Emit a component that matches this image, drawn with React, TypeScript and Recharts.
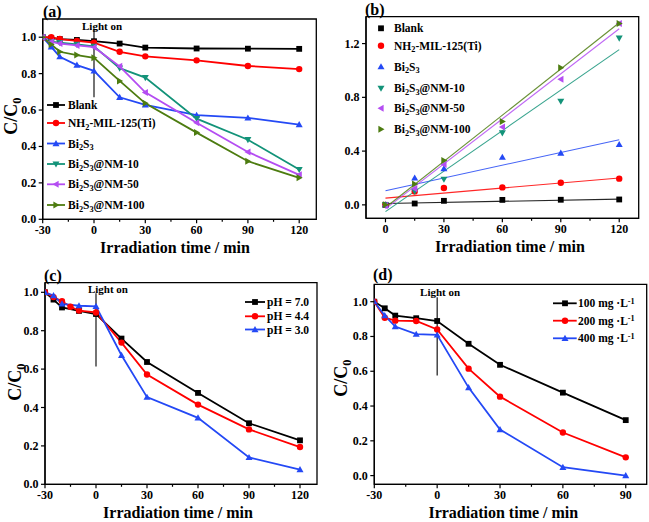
import React from 'react';
import {
  LineChart, Line, XAxis, YAxis, ReferenceLine, ReferenceArea, ReferenceDot,
  ComposedChart, Scatter, Legend,
} from 'recharts';

const FONT = '"Liberation Serif", "Times New Roman", Times, serif';
const BLACK = '#000000';
const RED = '#ff0000';
const BLUE = '#2449f5';
const TEAL = '#139379';
const PURPLE = '#b44df2';
const OLIVE = '#4d7c10';

// ---------- Panel (a) ----------
const timeA = [-30, -25, -20, -10, 0, 15, 30, 60, 90, 120];
const blankA = [1.0, 0.995, 0.99, 0.985, 0.978, 0.965, 0.943, 0.938, 0.937, 0.936];
const nh2A = [1.0, 1.0, 0.99, 0.98, 0.97, 0.92, 0.895, 0.873, 0.842, 0.825];
const bi2s3A = [1.0, 0.947, 0.893, 0.847, 0.815, 0.67, 0.628, 0.572, 0.557, 0.52];
const nm10A = [1.0, 0.975, 0.97, 0.96, 0.95, 0.83, 0.778, 0.553, 0.437, 0.273];
const nm50A = [1.0, 0.975, 0.965, 0.955, 0.945, 0.84, 0.697, 0.53, 0.37, 0.244];
const nm100A = [1.0, 0.96, 0.92, 0.902, 0.887, 0.76, 0.637, 0.476, 0.319, 0.228];
const namesA = ['Blank', 'NH2-MIL-125(Ti)', 'Bi2S3', 'Bi2S3@NM-10', 'Bi2S3@NM-50', 'Bi2S3@NM-100'];

// ---------- Panel (b) ----------
const timeB = [0, 15, 30, 60, 90, 120];
const blankB = [0, 0.01, 0.03, 0.037, 0.038, 0.04];
const nh2B = [0, 0.1, 0.125, 0.13, 0.165, 0.195];
const bi2s3B = [0, 0.2, 0.27, 0.355, 0.385, 0.45];
const nm10B = [0, 0.1, 0.19, 0.535, 0.77, 1.24];
const nm50B = [-0.005, 0.12, 0.3, 0.58, 0.935, 1.35];
const nm100B = [0, 0.155, 0.33, 0.62, 1.02, 1.35];
const fitTimeB = [0, 120];
const blankFitB = [0.01, 0.043];
const nh2FitB = [0.05, 0.2];
const bi2s3FitB = [0.105, 0.485];
const nm10FitB = [-0.05, 1.155];
const nm50FitB = [-0.03, 1.31];
const nm100FitB = [-0.02, 1.355];

// ---------- Panel (c) ----------
const timeC = [-30, -25, -20, -15, -10, 0, 15, 30, 60, 90, 120];
const ph70C = [1.0, 0.962, 0.921, null, 0.903, 0.887, 0.759, 0.637, 0.476, 0.318, 0.229];
const ph44C = [1.0, 0.975, 0.953, 0.925, 0.905, 0.895, 0.738, 0.572, 0.415, 0.286, 0.194];
const ph30C = [1.0, 0.983, 0.94, null, 0.93, 0.927, 0.672, 0.454, 0.346, 0.14, 0.077];
const namesC = ['pH = 7.0', 'pH = 4.4', 'pH = 3.0'];

// ---------- Panel (d) ----------
const timeD = [-30, -25, -20, -10, 0, 15, 30, 60, 90];
const mg100D = [1.0, 0.962, 0.92, 0.905, 0.889, 0.758, 0.637, 0.477, 0.319];
const mg200D = [1.0, 0.908, 0.891, 0.889, 0.84, 0.615, 0.454, 0.248, 0.105];
const mg400D = [1.0, 0.92, 0.857, 0.813, 0.809, 0.506, 0.265, 0.048, 0.0];
const doseD = ['100', '200', '400'];

// ---------- helpers ----------
const rows = (t: number[], series: Record<string, (number | null)[]>) =>
  t.map((tv, i) => {
    const r: any = { t: tv };
    Object.keys(series).forEach((k) => { r[k] = series[k][i]; });
    return r;
  });
const pts = (t: number[], v: number[]) => t.map((tv, i) => ({ x: tv, y: v[i] }));

const Sub = ({ children }: any) => (
  <span style={{ fontSize: '0.72em', position: 'relative', top: '0.32em' }}>{children}</span>
);
const Sup = ({ children }: any) => (
  <span style={{ fontSize: '0.72em', position: 'relative', top: '-0.45em' }}>{children}</span>
);
const chem = (s: string) => {
  const parts = s.split(/(?<=[A-Za-z])(\d)/);
  return parts.map((p, i) => (i % 2 === 1 ? <Sub key={i}>{p}</Sub> : <React.Fragment key={i}>{p}</React.Fragment>));
};

function MarkerShape({ cx, cy, shape, color, size = 7 }: any) {
  if (cx == null || cy == null || Number.isNaN(cx) || Number.isNaN(cy)) return <g />;
  const s = size / 2;
  switch (shape) {
    case 'square':
      return <rect x={cx - 2.9} y={cy - 2.9} width={5.8} height={5.8} fill={color} />;
    case 'circle':
      return <circle cx={cx} cy={cy} r={3.2} fill={color} />;
    case 'up':
      return <polygon points={`${cx},${cy - s} ${cx + s},${cy + s * 0.75} ${cx - s},${cy + s * 0.75}`} fill={color} />;
    case 'down':
      return <polygon points={`${cx},${cy + s} ${cx + s},${cy - s * 0.75} ${cx - s},${cy - s * 0.75}`} fill={color} />;
    case 'left':
      return <polygon points={`${cx - s},${cy} ${cx + s * 0.75},${cy - s} ${cx + s * 0.75},${cy + s}`} fill={color} />;
    case 'right':
      return <polygon points={`${cx + s},${cy} ${cx - s * 0.75},${cy - s} ${cx - s * 0.75},${cy + s}`} fill={color} />;
    default:
      return <g />;
  }
}

const makeDot = (shape: string, color: string) => (props: any) => {
  const { cx, cy, index, value } = props;
  if (value == null || cy == null) return <g key={`n-${index}`} />;
  return <MarkerShape key={`d-${index}`} cx={cx} cy={cy} shape={shape} color={color} />;
};

const TICK_FONT = 12;
const XTick = ({ x, y, payload, majors }: any) => {
  const major = majors.includes(payload.value);
  return (
    <g>
      <line x1={x} x2={x} y1={y} y2={y + (major ? 4 : 2.5)} stroke="#000" strokeWidth={1.2} />
      {major && (
        <text x={x} y={y + 15} textAnchor="middle" fontFamily={FONT} fontWeight="bold" fontSize={TICK_FONT} fill="#000">
          {String(payload.value)}
        </text>
      )}
    </g>
  );
};
const YTick = ({ x, y, payload, majors }: any) => {
  const major = majors.some((m: number) => Math.abs(m - payload.value) < 1e-9);
  return (
    <g>
      <line x1={x - (major ? 4 : 2.5)} x2={x} y1={y} y2={y} stroke="#000" strokeWidth={1.2} />
      {major && (
        <text x={x - 6.5} y={y + 4} textAnchor="end" fontFamily={FONT} fontWeight="bold" fontSize={TICK_FONT} fill="#000">
          {Number(payload.value).toFixed(1)}
        </text>
      )}
    </g>
  );
};

const XTitle = ({ px, py }: any) => (
  <text x={px} y={py} textAnchor="middle" fontFamily={FONT} fontWeight="bold" fontSize={16} fill="#000">
    Irradiation time / min
  </text>
);
const YTitle = ({ px, py }: any) => (
  <text x={px} y={py} transform={`rotate(-90, ${px}, ${py})`} textAnchor="middle" fontFamily={FONT} fontWeight="bold" fontSize={18} fill="#000">
    <tspan>C/C</tspan>
    <tspan dy={4} fontSize={12.5}>0</tspan>
  </text>
);

const LightText = (props: any) => (
  <text x={props.cx} y={props.cy + 4} textAnchor="middle" fontFamily={FONT} fontWeight="bold" fontSize={11} fill="#000">
    Light on
  </text>
);

const AXIS = { stroke: '#000', strokeWidth: 1.3 };

function LegendBlock({ items, ys, markerX, textX, lineX1, lineX2 }: any) {
  return (
    <div style={{ position: 'absolute', left: 0, top: 0, width: 0, height: 0 }}>
      <svg width={1} height={1} style={{ position: 'absolute', left: 0, top: 0, overflow: 'visible' }}>
        {items.map((it: any, i: number) => (
          <g key={i}>
            {lineX1 != null && (
              <line x1={lineX1} x2={lineX2} y1={ys[i]} y2={ys[i]} stroke={it.color} strokeWidth={1.8} />
            )}
            <MarkerShape cx={markerX} cy={ys[i]} shape={it.shape} color={it.color} />
          </g>
        ))}
      </svg>
      {items.map((it: any, i: number) => (
        <div
          key={i}
          style={{
            position: 'absolute', left: textX, top: ys[i] - 8, lineHeight: '16px', whiteSpace: 'nowrap',
            fontFamily: FONT, fontWeight: 'bold', fontSize: 11.5, color: '#000',
          }}
        >
          {it.label}
        </div>
      ))}
    </div>
  );
}

const PanelLabel = ({ text, left, cy }: any) => (
  <div style={{ position: 'absolute', left, top: cy - 9, lineHeight: '18px', fontFamily: FONT, fontWeight: 'bold', fontSize: 16, color: '#000' }}>
    {text}
  </div>
);

const LEGEND_PROPS: any = {
  layout: 'vertical', align: 'center', verticalAlign: 'middle',
  wrapperStyle: { left: 0, top: 0, width: 0, height: 0 },
};

// ---------- data tables ----------
const dataA = rows(timeA, { blank: blankA, nh2: nh2A, bi: bi2s3A, nm10: nm10A, nm50: nm50A, nm100: nm100A });
const seriesA = [
  { key: 'blank', color: BLACK, shape: 'square' },
  { key: 'nh2', color: RED, shape: 'circle' },
  { key: 'bi', color: BLUE, shape: 'up' },
  { key: 'nm10', color: TEAL, shape: 'down' },
  { key: 'nm50', color: PURPLE, shape: 'left' },
  { key: 'nm100', color: OLIVE, shape: 'right' },
].map((s, i) => ({ ...s, name: namesA[i] }));

const seriesB = [
  { v: blankB, fit: blankFitB, color: BLACK, shape: 'square' },
  { v: nh2B, fit: nh2FitB, color: RED, shape: 'circle' },
  { v: bi2s3B, fit: bi2s3FitB, color: BLUE, shape: 'up' },
  { v: nm10B, fit: nm10FitB, color: TEAL, shape: 'down' },
  { v: nm50B, fit: nm50FitB, color: PURPLE, shape: 'left' },
  { v: nm100B, fit: nm100FitB, color: OLIVE, shape: 'right' },
].map((s, i) => ({ ...s, name: namesA[i] }));

const dataC = rows(timeC, { p7: ph70C, p44: ph44C, p3: ph30C });
const seriesC = [
  { key: 'p7', color: BLACK, shape: 'square' },
  { key: 'p44', color: RED, shape: 'circle' },
  { key: 'p3', color: BLUE, shape: 'up' },
].map((s, i) => ({ ...s, name: namesC[i] }));

const dataD = rows(timeD, { m100: mg100D, m200: mg200D, m400: mg400D });
const seriesD = [
  { key: 'm100', color: BLACK, shape: 'square' },
  { key: 'm200', color: RED, shape: 'circle' },
  { key: 'm400', color: BLUE, shape: 'up' },
].map((s, i) => ({ ...s, name: doseD[i] }));

const xMajorA = [-30, 0, 30, 60, 90, 120];
const xMinorA = [-15, 15, 45, 75, 105];
const yMajor10 = [0, 0.2, 0.4, 0.6, 0.8, 1.0];
const xMajorB = [0, 30, 60, 90, 120];
const xMinorB = [15, 45, 75, 105];
const yMajorB = [0, 0.4, 0.8, 1.2];
const xMajorD = [-30, 0, 30, 60, 90];
const xMinorD = [-15, 15, 45, 75];

const sortNum = (a: number[]) => [...a].sort((p, q) => p - q);
const LW = 1.8;

export default function App() {
  return (
    <div style={{ position: 'absolute', left: 0, top: 0, width: 649, height: 522, background: '#fff', overflow: 'hidden' }}>
      {/* (a) */}
      <div style={{ position: 'absolute', left: 0, top: 0, width: 330, height: 262 }}>
        <LineChart width={330} height={262} data={dataA} margin={{ top: 19, right: 13.7, bottom: 0, left: 0 }}>
          <XAxis dataKey="t" type="number" domain={[-30, 130]} allowDataOverflow ticks={sortNum([...xMajorA, ...xMinorA])} interval={0}
            height={42.7} tick={<XTick majors={xMajorA} />} tickLine={false} tickSize={0} tickMargin={0} axisLine={AXIS}
            label={<XTitle px={175} py={253.3} />} />
          <YAxis type="number" domain={[0, 1.1]} allowDataOverflow ticks={yMajor10} interval={0} width={42.7}
            tick={<YTick majors={yMajor10} />} tickLine={false} tickSize={0} tickMargin={0} axisLine={AXIS}
            label={<YTitle px={17} py={116} />} />
          <ReferenceArea x1={-30} x2={130} y1={0} y2={1.1} fill="none" stroke="#000" strokeWidth={1.3} ifOverflow="visible" />
          <ReferenceLine segment={[{ x: 0, y: 0.67 }, { x: 0, y: 1.045 }]} stroke="#000" strokeWidth={1.1} />
          <ReferenceDot x={4.7} y={1.064} r={0} shape={LightText} ifOverflow="visible" />
          {seriesA.map((s) => (
            <Line key={s.key} dataKey={s.key} name={s.name} type="linear" stroke={s.color} strokeWidth={LW}
              dot={makeDot(s.shape, s.color)} activeDot={false} isAnimationActive={false} />
          ))}
          <Legend {...LEGEND_PROPS} content={() => (
            <LegendBlock items={seriesA.map((s) => ({ ...s, label: chem(s.name) }))}
              ys={[105, 123, 143.5, 164, 184.3, 205]} markerX={56} lineX1={47} lineX2={65} textX={68} />
          )} />
        </LineChart>
      </div>

      {/* (b) */}
      <div style={{ position: 'absolute', left: 330, top: 0, width: 319, height: 262 }}>
        <ComposedChart width={319} height={262} margin={{ top: 16.7, right: 10.3, bottom: 0, left: 0 }}>
          <XAxis dataKey="x" type="number" domain={[-10, 130]} allowDataOverflow ticks={sortNum([...xMajorB, ...xMinorB])} interval={0}
            height={43.7} tick={<XTick majors={xMajorB} />} tickLine={false} tickSize={0} tickMargin={0} axisLine={AXIS}
            label={<XTitle px={180} py={252} />} />
          <YAxis type="number" domain={[-0.1, 1.4]} allowDataOverflow ticks={yMajorB} interval={0} width={36}
            tick={<YTick majors={yMajorB} />} tickLine={false} tickSize={0} tickMargin={0} axisLine={AXIS} />
          <ReferenceArea x1={-10} x2={130} y1={-0.1} y2={1.4} fill="none" stroke="#000" strokeWidth={1.3} ifOverflow="visible" />
          {seriesB.map((s, i) => (
            <Line key={`fit-${i}`} data={pts(fitTimeB, s.fit)} dataKey="y" type="linear" stroke={s.color}
              strokeWidth={1.1} strokeOpacity={0.85} dot={false} activeDot={false} legendType="none" isAnimationActive={false} />
          ))}
          {seriesB.map((s, i) => (
            <Scatter key={`sc-${i}`} data={pts(timeB, s.v)} dataKey="y" name={s.name} fill={s.color}
              shape={(p: any) => <MarkerShape cx={p.cx} cy={p.cy} shape={s.shape} color={s.color} />} isAnimationActive={false} />
          ))}
          <Legend {...LEGEND_PROPS} content={() => (
            <LegendBlock items={seriesB.map((s) => ({ ...s, label: chem(s.name) }))}
              ys={[28.3, 45.7, 66.7, 88.3, 108.3, 129.3]} markerX={51} textX={64} />
          )} />
        </ComposedChart>
      </div>

      {/* (c) */}
      <div style={{ position: 'absolute', left: 0, top: 262, width: 330, height: 260 }}>
        <LineChart width={330} height={260} data={dataC} margin={{ top: 20.7, right: 13, bottom: 0, left: 0 }}>
          <XAxis dataKey="t" type="number" domain={[-30, 130]} allowDataOverflow ticks={sortNum([...xMajorA, ...xMinorA])} interval={0}
            height={37.7} tick={<XTick majors={xMajorA} />} tickLine={false} tickSize={0} tickMargin={0} axisLine={AXIS}
            label={<XTitle px={178} py={256.3} />} />
          <YAxis type="number" domain={[0, 1.05]} allowDataOverflow ticks={yMajor10} interval={0} width={45}
            tick={<YTick majors={yMajor10} />} tickLine={false} tickSize={0} tickMargin={0} axisLine={AXIS}
            label={<YTitle px={21} py={120} />} />
          <ReferenceArea x1={-30} x2={130} y1={0} y2={1.05} fill="none" stroke="#000" strokeWidth={1.3} ifOverflow="visible" />
          <ReferenceLine segment={[{ x: 0, y: 0.613 }, { x: 0, y: 0.995 }]} stroke="#000" strokeWidth={1.1} />
          <ReferenceDot x={7} y={1.017} r={0} shape={LightText} ifOverflow="visible" />
          {seriesC.map((s) => (
            <Line key={s.key} dataKey={s.key} name={s.name} type="linear" stroke={s.color} strokeWidth={LW} connectNulls
              dot={makeDot(s.shape, s.color)} activeDot={false} isAnimationActive={false} />
          ))}
          <Legend {...LEGEND_PROPS} content={() => (
            <LegendBlock items={seriesC.map((s) => ({ ...s, label: s.name }))}
              ys={[40, 54.3, 67.5]} markerX={255} lineX1={245} lineX2={265} textX={267} />
          )} />
        </LineChart>
      </div>

      {/* (d) */}
      <div style={{ position: 'absolute', left: 330, top: 262, width: 319, height: 260 }}>
        <LineChart width={319} height={260} data={dataD} margin={{ top: 22.3, right: 2.3, bottom: 0, left: 0 }}>
          <XAxis dataKey="t" type="number" domain={[-30, 100]} allowDataOverflow ticks={sortNum([...xMajorD, ...xMinorD])} interval={0}
            height={37.7} tick={<XTick majors={xMajorD} />} tickLine={false} tickSize={0} tickMargin={0} axisLine={AXIS}
            label={<XTitle px={173.3} py={256.3} />} />
          <YAxis type="number" domain={[-0.05, 1.1]} allowDataOverflow ticks={yMajor10} interval={0} width={44.3}
            tick={<YTick majors={yMajor10} />} tickLine={false} tickSize={0} tickMargin={0} axisLine={AXIS}
            label={<YTitle px={17} py={116} />} />
          <ReferenceArea x1={-30} x2={100} y1={-0.05} y2={1.1} fill="none" stroke="#000" strokeWidth={1.3} ifOverflow="visible" />
          <ReferenceLine segment={[{ x: 0, y: 0.576 }, { x: 0, y: 1.025 }]} stroke="#000" strokeWidth={1.1} />
          <ReferenceDot x={1.4} y={1.057} r={0} shape={LightText} ifOverflow="visible" />
          {seriesD.map((s) => (
            <Line key={s.key} dataKey={s.key} name={`${s.name} mg ·L-1`} type="linear" stroke={s.color} strokeWidth={LW}
              dot={makeDot(s.shape, s.color)} activeDot={false} isAnimationActive={false} />
          ))}
          <Legend {...LEGEND_PROPS} content={() => (
            <LegendBlock items={seriesD.map((s) => ({ ...s, label: <>{s.name} mg ·L<Sup>-1</Sup></> }))}
              ys={[41.3, 58.7, 76.3]} markerX={235} lineX1={223} lineX2={246.7} textX={248} />
          )} />
        </LineChart>
      </div>

      <PanelLabel text="(a)" left={43} cy={11.7} />
      <PanelLabel text="(b)" left={365} cy={9.7} />
      <PanelLabel text="(c)" left={44} cy={275.7} />
      <PanelLabel text="(d)" left={373} cy={275} />
    </div>
  );
}
